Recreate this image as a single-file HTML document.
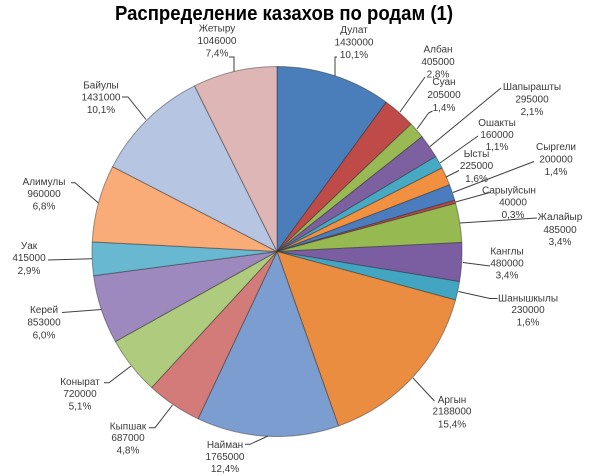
<!DOCTYPE html>
<html><head><meta charset="utf-8"><style>
html,body{margin:0;padding:0;background:#fff;}
svg{display:block;}
text{font-family:"Liberation Sans","DejaVu Sans",sans-serif;}
.l{font-size:10px;fill:#3a3a3a;text-anchor:middle;}
.ld{stroke:#404040;stroke-width:1;fill:none;}
.s{stroke:rgba(40,40,40,0.45);stroke-width:1;stroke-linejoin:round;}
</style></head><body>
<svg width="600" height="476" viewBox="0 0 600 476" xmlns="http://www.w3.org/2000/svg">
<rect width="600" height="476" fill="#fff"/>
<text x="284" y="20" font-size="20" font-weight="bold" fill="#000" text-anchor="middle" textLength="338" lengthAdjust="spacingAndGlyphs">Распределение казахов по родам (1)</text>

<g class="s">
<path fill="#4A7EBB" d="M277,251.5 L277,66.5 A185,185 0 0 1 386.26,102.2 Z"/>
<path fill="#BE4B48" d="M277,251.5 L386.26,102.2 A185,185 0 0 1 411.1,124.05 Z"/>
<path fill="#98B954" d="M277,251.5 L411.1,124.05 A185,185 0 0 1 422.08,136.7 Z"/>
<path fill="#7D60A0" d="M277,251.5 L422.08,136.7 A185,185 0 0 1 435.77,156.53 Z"/>
<path fill="#46AAC5" d="M277,251.5 L435.77,156.53 A185,185 0 0 1 442.08,167.99 Z"/>
<path fill="#F09040" d="M277,251.5 L442.08,167.99 A185,185 0 0 1 449.55,184.78 Z"/>
<path fill="#4A7CBE" d="M277,251.5 L449.55,184.78 A185,185 0 0 1 454.77,200.27 Z"/>
<path fill="#B84845" d="M277,251.5 L454.77,200.27 A185,185 0 0 1 455.64,203.42 Z"/>
<path fill="#96B952" d="M277,251.5 L455.64,203.42 A185,185 0 0 1 461.78,242.51 Z"/>
<path fill="#7B5EA2" d="M277,251.5 L461.78,242.51 A185,185 0 0 1 459.54,281.61 Z"/>
<path fill="#42A6C3" d="M277,251.5 L459.54,281.61 A185,185 0 0 1 455.54,299.97 Z"/>
<path fill="#EA8D40" d="M277,251.5 L455.54,299.97 A185,185 0 0 1 338.51,425.98 Z"/>
<path fill="#7C9DD0" d="M277,251.5 L338.51,425.98 A185,185 0 0 1 198.04,418.8 Z"/>
<path fill="#D27B79" d="M277,251.5 L198.04,418.8 A185,185 0 0 1 151.64,387.55 Z"/>
<path fill="#AECB7E" d="M277,251.5 L151.64,387.55 A185,185 0 0 1 115.37,341.51 Z"/>
<path fill="#9D89BE" d="M277,251.5 L115.37,341.51 A185,185 0 0 1 93.59,275.71 Z"/>
<path fill="#68B8D2" d="M277,251.5 L93.59,275.71 A185,185 0 0 1 92.25,241.86 Z"/>
<path fill="#F9AC78" d="M277,251.5 L92.25,241.86 A185,185 0 0 1 112.59,166.67 Z"/>
<path fill="#B6C5E2" d="M277,251.5 L112.59,166.67 A185,185 0 0 1 194.5,85.9 Z"/>
<path fill="#DFB6B6" d="M277,251.5 L194.5,85.9 A185,185 0 0 1 277,66.5 Z"/>
</g>

<g class="ld">
<polyline points="229,57 234,57 234,71.5"/>
<polyline points="337,57 335,57 335,76"/>
<polyline points="425,77 400,112"/>
<polyline points="432.5,111 428.6,113 417,129"/>
<polyline points="501,88 430,146.5"/>
<polyline points="478,136 440,163"/>
<polyline points="459,170.5 446,177"/>
<polyline points="534,161.5 453,192.5"/>
<polyline points="490,192.5 455.5,202"/>
<polyline points="537,218 460,223"/>
<polyline points="490,266 463,262.5"/>
<polyline points="497.5,298.5 490,298.5 458.5,291.5"/>
<polyline points="434.4,401 413,378"/>
<polyline points="245,444.3 250,444.3 268,436"/>
<polyline points="149,427.7 155,427.7 172.5,405"/>
<polyline points="104,382.7 109,382.7 131,366"/>
<polyline points="62,312.5 101.5,309.5"/>
<polyline points="48,260 92,258.7"/>
<polyline points="71,182.7 75,182.7 98.5,203"/>
<polyline points="122,97 128,97 146,119.5"/>
</g>

<g class="l">
<text x="217" y="31.5">Жетыру</text><text x="217" y="44">1046000</text><text x="217" y="56.5">7,4%</text>
<text x="354" y="33">Дулат</text><text x="354" y="45.5">1430000</text><text x="354" y="58">10,1%</text>
<text x="438" y="52.5">Албан</text><text x="438" y="65">405000</text><text x="438" y="77.5">2,8%</text>
<text x="444" y="85">Суан</text><text x="444" y="98">205000</text><text x="444" y="111">1,4%</text>
<text x="532" y="90">Шапырашты</text><text x="532" y="102.5">295000</text><text x="532" y="115">2,1%</text>
<text x="497" y="126">Ошакты</text><text x="497" y="137.8">160000</text><text x="497" y="150">1,1%</text>
<text x="476.5" y="157">Ысты</text><text x="476.5" y="169">225000</text><text x="476.5" y="181.8">1,6%</text>
<text x="556" y="150">Сыргели</text><text x="556" y="162.5">200000</text><text x="556" y="175">1,4%</text>
<text x="509" y="193.5">Сарыуйсын</text><text x="513" y="205.5">40000</text><text x="513" y="218">0,3%</text>
<text x="560" y="220">Жалайыр</text><text x="560" y="232.8">485000</text><text x="560" y="245">3,4%</text>
<text x="507" y="254.5">Канглы</text><text x="507" y="266.5">480000</text><text x="507" y="278.5">3,4%</text>
<text x="528" y="301.5">Шанышкылы</text><text x="528" y="313">230000</text><text x="528" y="325.5">1,6%</text>
<text x="452" y="403">Аргын</text><text x="452" y="414.5">2188000</text><text x="452" y="427.5">15,4%</text>
<text x="225" y="447.8">Найман</text><text x="225" y="460">1765000</text><text x="225" y="472">12,4%</text>
<text x="128" y="429.5">Кыпшак</text><text x="128" y="441">687000</text><text x="128" y="453.5">4,8%</text>
<text x="80" y="385">Конырат</text><text x="80" y="397">720000</text><text x="80" y="409.5">5,1%</text>
<text x="44" y="313">Керей</text><text x="44" y="325.5">853000</text><text x="44" y="338.5">6,0%</text>
<text x="29" y="249">Уак</text><text x="29" y="261">415000</text><text x="29" y="273.8">2,9%</text>
<text x="44" y="185">Алимулы</text><text x="44" y="197">960000</text><text x="44" y="209.5">6,8%</text>
<text x="101" y="88.5">Байулы</text><text x="101" y="100.5">1431000</text><text x="101" y="113">10,1%</text>
</g>
</svg>
</body></html>
